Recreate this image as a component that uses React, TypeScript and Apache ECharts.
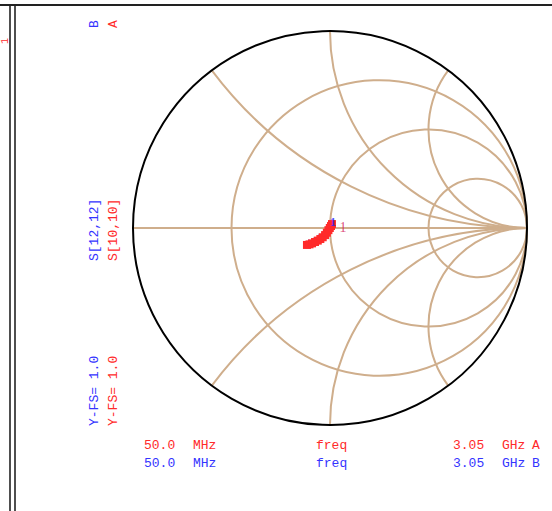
import React, { useEffect, useRef } from "react";
import * as echarts from "echarts";

// Smith chart grid values
const resistanceCircles = [1 / 3, 1, 3];
const reactanceArcs = [0.5, 1, 2];

// Reflection coefficient traces (real, imag)
const s1010: number[][] = [
  [-0.117, -0.086], [-0.104, -0.083], [-0.091, -0.078], [-0.076, -0.071], [-0.062, -0.064],
  [-0.049, -0.056], [-0.037, -0.047], [-0.025, -0.036], [-0.016, -0.024], [-0.008, -0.011],
  [-0.001, 0.0], [0.005, 0.01], [0.01, 0.02],
];
const s1212: number[][] = [
  [-0.107, -0.071], [-0.081, -0.061], [-0.056, -0.046], [-0.036, -0.03],
  [-0.02, -0.015], [-0.01, 0.0], [-0.005, 0.015],
];

const traceNames = ["S[10,10]", "S[12,12]"];
const traceTags = ["A", "B"];
const markerLabels = ["1", "1"];
const fullScale = ["Y-FS= 1.0", "Y-FS= 1.0"];
const sweepName = "freq";
const startValue = "50.0";
const startUnit = "MHz";
const stopValue = "3.05";
const stopUnit = "GHz";

const RED = "#ff2a2a";
const BLUE = "#3434ff";
const TAN = "#cfae8c";
const FONT = "'Liberation Mono', 'DejaVu Sans Mono', monospace";

export default function App() {
  const ref = useRef<HTMLDivElement>(null);
  useEffect(() => {
    if (!ref.current) return;
    const chart = echarts.init(ref.current, null, { renderer: "svg" });

    const rotText = (text: string, x: number, y: number, color: string, size = 13) => ({
      type: "text",
      x,
      y,
      rotation: Math.PI / 2,
      style: {
        text,
        fill: color,
        font: `${size}px ${FONT}`,
        textAlign: "left",
        textVerticalAlign: "middle",
      },
    });
    const hText = (text: string, x: number, y: number, color: string) => ({
      type: "text",
      x,
      y,
      style: {
        text,
        fill: color,
        font: `13px ${FONT}`,
        textAlign: "left",
        textVerticalAlign: "middle",
      },
    });

    const colors = [RED, BLUE];
    const rows = [445, 463];
    const colX = [113, 94];
    const graphics: any[] = [
      { type: "line", shape: { x1: 0, y1: 5, x2: 552, y2: 5 }, style: { stroke: "#222", lineWidth: 2 } },
      { type: "line", shape: { x1: 10, y1: 5, x2: 10, y2: 511 }, style: { stroke: "#222", lineWidth: 1.6 } },
      { type: "line", shape: { x1: 15, y1: 5, x2: 15, y2: 511 }, style: { stroke: "#222", lineWidth: 1.6 } },
      rotText("1", 5, 44, RED, 10),
    ];
    [0, 1].forEach((i) => {
      graphics.push(rotText(traceTags[i], colX[i], 28, colors[i]));
      graphics.push(rotText(traceNames[i], colX[i], 261, colors[i]));
      graphics.push(rotText(fullScale[i], colX[i], 426, colors[i]));
      graphics.push(hText(startValue, 144, rows[i], colors[i]));
      graphics.push(hText(startUnit, 193, rows[i], colors[i]));
      graphics.push(hText(sweepName, 316, rows[i], colors[i]));
      graphics.push(hText(stopValue, 453, rows[i], colors[i]));
      graphics.push(hText(stopUnit, 502, rows[i], colors[i]));
      graphics.push(hText(traceTags[i], 532, rows[i], colors[i]));
    });

    const lastRed = s1010[s1010.length - 1];
    const lastBlue = s1212[s1212.length - 1];

    const option: any = {
      animation: false,
      backgroundColor: "#fff",
      grid: { left: 133, top: 31, width: 394, height: 394 },
      xAxis: { type: "value", min: -1, max: 1, show: false },
      yAxis: { type: "value", min: -1, max: 1, show: false },
      graphic: graphics,
      series: [
        {
          type: "custom",
          silent: true,
          clip: false,
          z: 1,
          data: [[0, 0]],
          renderItem: (_params: any, api: any) => {
            const c = api.coord([0, 0]);
            const u = api.size([1, 1])[0];
            const st = { stroke: TAN, lineWidth: 2, fill: "none" };
            const children: any[] = [];
            children.push({ type: "line", shape: { x1: c[0] - u, y1: c[1], x2: c[0] + u, y2: c[1] }, style: { ...st } });
            resistanceCircles.forEach((r) => {
              const cc = api.coord([r / (1 + r), 0]);
              children.push({ type: "circle", shape: { cx: cc[0], cy: cc[1], r: u / (1 + r) }, style: { ...st } });
            });
            reactanceArcs.forEach((x) => {
              const px = (x * x - 1) / (x * x + 1);
              const py = (2 * x) / (x * x + 1);
              [1, -1].forEach((sgn) => {
                const cc = api.coord([1, sgn / x]);
                const p2 = api.coord([px, sgn * py]);
                let a = Math.atan2(p2[1] - cc[1], p2[0] - cc[0]);
                if (a < 0) a += 2 * Math.PI;
                let start: number, end: number;
                if (sgn > 0) {
                  start = Math.PI / 2;
                  end = a;
                } else {
                  start = a;
                  end = (3 * Math.PI) / 2;
                }
                children.push({
                  type: "arc",
                  shape: { cx: cc[0], cy: cc[1], r: u / x, startAngle: start, endAngle: end, clockwise: true },
                  style: { ...st },
                });
              });
            });
            children.push({ type: "circle", shape: { cx: c[0], cy: c[1], r: u }, style: { stroke: "#000", lineWidth: 2, fill: "none" } });
            return { type: "group", children };
          },
        },
        {
          type: "line",
          name: traceNames[1],
          z: 2,
          data: s1212,
          symbol: "triangle",
          symbolSize: 6,
          itemStyle: { color: BLUE },
          lineStyle: { color: BLUE, width: 1.5 },
        },
        {
          type: "line",
          name: traceNames[0],
          z: 3,
          data: s1010,
          symbol: "rect",
          symbolSize: 8,
          itemStyle: { color: RED },
          lineStyle: { color: RED, width: 6 },
        },
        {
          type: "scatter",
          z: 10,
          silent: true,
          symbol: "circle",
          symbolSize: 1,
          itemStyle: { color: "rgba(0,0,0,0)" },
          data: [
            {
              value: lastBlue,
              label: { show: true, formatter: markerLabels[1], position: "inside", offset: [4, -3], color: "#2020ff", fontWeight: "bold", fontFamily: "'Liberation Serif', serif", fontSize: 12 },
            },
            {
              value: lastRed,
              label: { show: true, formatter: markerLabels[0], position: "right", offset: [2, 3], color: "#d4245e", fontFamily: "'Liberation Serif', serif", fontSize: 14 },
            },
          ],
        },
      ],
    };
    chart.setOption(option);
    return () => chart.dispose();
  }, []);
  return (
    <div
      ref={ref}
      style={{ position: "fixed", left: 0, top: 0, width: 552, height: 511 }}
    />
  );
}
